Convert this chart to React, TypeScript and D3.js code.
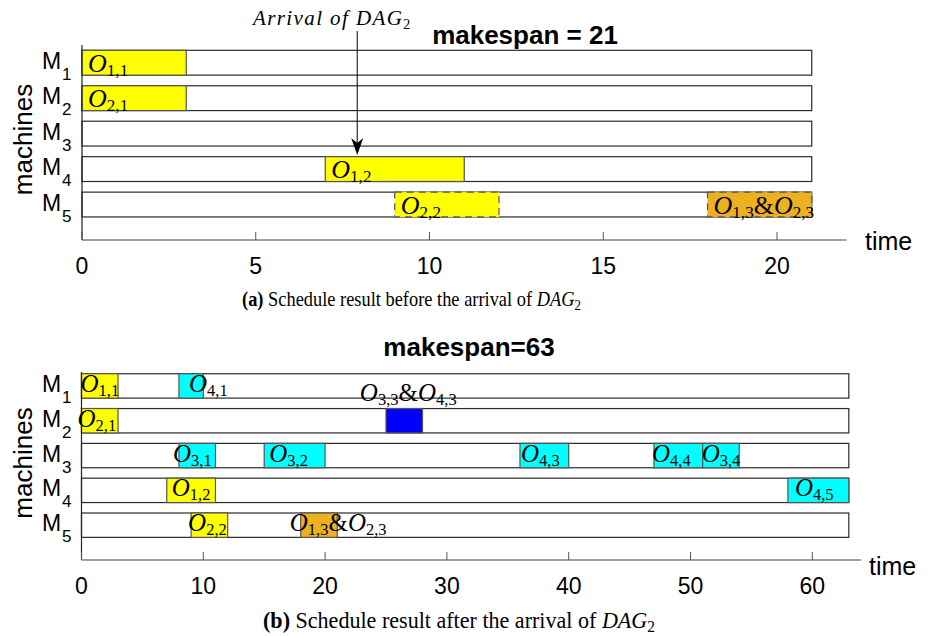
import React from 'react';
import * as d3 from 'd3';

// machines, top to bottom
const machines = ['1', '2', '3', '4', '5'];

// (a) before the arrival of DAG2
const beforeMachine = [1, 2, 4, 5, 5];
const beforeStart = [0, 0, 7, 9, 18];
const beforeEnd = [3, 3, 11, 12, 21];
const beforeLabel = ['1,1', '2,1', '1,2', '2,2', '1,3&2,3'];
const beforeGroup = ['dag1', 'dag1', 'dag1', 'dag1', 'merged1'];
const beforePending = [false, false, false, true, true];
const beforeMakespan = 21;
const beforeTicks = [0, 5, 10, 15, 20];
const arrivalTime = 7.92;

// (b) after the arrival of DAG2
const afterMachine = [1, 1, 2, 2, 3, 3, 3, 3, 3, 4, 4, 5, 5];
const afterStart = [0, 8, 0, 25, 8, 15, 36, 47, 51, 7, 58, 9, 18];
const afterEnd = [3, 10, 3, 28, 11, 20, 40, 51, 54, 11, 63, 12, 21];
const afterLabel = ['1,1', '4,1', '2,1', '3,3&4,3', '3,1', '3,2', '4,3', '4,4', '3,4', '1,2', '4,5', '2,2', '1,3&2,3'];
const afterGroup = ['dag1', 'dag2', 'dag1', 'merged2', 'dag2', 'dag2', 'dag2', 'dag2', 'dag2', 'dag1', 'dag2', 'dag1', 'merged1'];
const afterMakespan = 63;
const afterTicks = [0, 10, 20, 30, 40, 50, 60];

const groupColor: Record<string, string> = {
  dag1: '#FFFF00',
  dag2: '#00FFFF',
  merged1: '#EDB120',
  merged2: '#0000FF',
};

// small label nudges (px) for panel (b)
const afterNudge = [-1, 10, -4, 0, -6, 5, 1, -2, -1, 5, 7, -3, -11];

const SANS = 'Liberation Sans, Arial, sans-serif';
const SERIF = 'Liberation Serif, Times New Roman, serif';

function OpLabel({ text, x, y, size, sub, anchor = 'start' }: any) {
  const parts = text.split('&');
  const out: any[] = [];
  parts.forEach((p: string, i: number) => {
    if (i > 0) out.push(<tspan key={'a' + i} dy={-4} fontStyle="normal">&amp;</tspan>);
    out.push(<tspan key={'o' + i} fontStyle="italic">O</tspan>);
    out.push(<tspan key={'s' + i} dy={4} fontSize={sub} fontStyle="normal">{p}</tspan>);
  });
  return (
    <text x={x} y={y} fontFamily={SERIF} fontSize={size} textAnchor={anchor} fill="#000">
      {out}
    </text>
  );
}

function Caption({ x, y, size, letter, words, sx }: any) {
  return (
    <text transform={`translate(${x},${y}) scale(${sx},1)`} fontFamily={SERIF} fontSize={size}>
      <tspan fontWeight="bold">({letter})</tspan> {words} <tspan fontStyle="italic">DAG</tspan>
      <tspan fontSize={size * 0.7} dy={4}>2</tspan>
    </text>
  );
}

function Panel({ top, axisY, yMax, xMax, xRange, ticks, makespan, ops, title, titleX, titleY, pending, nudge, labelDy, labelSize, special, timeX, timeY }: any) {
  const x = d3.scaleLinear().domain([0, xMax]).range(xRange);
  const y = d3.scaleLinear().domain([0, yMax]).range([axisY, top]);
  const half = y(0) - y(0.35);
  const rowY = (m: number) => y(6 - m);

  return (
    <g>
      <text x={titleX} y={titleY} fontFamily={SANS} fontWeight="bold" fontSize={26} textAnchor="middle">{title}</text>
      {/* machine rows */}
      {machines.map((m, i) => (
        <g key={m}>
          <rect x={x(0)} y={rowY(i + 1) - half} width={x(makespan) - x(0)} height={2 * half}
            fill="#fff" stroke="#2a2a2a" strokeWidth={1.2} />
          <text x={42} y={rowY(i + 1) + 6} fontFamily={SANS} fontSize={23}>M</text>
          <text x={62} y={rowY(i + 1) + 17} fontFamily={SANS} fontSize={17}>{m}</text>
        </g>
      ))}
      {/* operations */}
      {ops.machine.map((m: number, i: number) => (
        <rect key={'b' + i} x={x(ops.start[i])} y={rowY(m) - half}
          width={x(ops.end[i]) - x(ops.start[i])} height={2 * half}
          fill={groupColor[ops.group[i]]}
          stroke="#555"
          strokeWidth={1.2}
          strokeDasharray={pending && pending[i] ? '7,5' : undefined} />
      ))}
      {ops.machine.map((m: number, i: number) => {
        if (special && ops.group[i] === 'merged2') {
          return (
            <OpLabel key={'l' + i} text={ops.label[i]} x={x((ops.start[i] + ops.end[i]) / 2) + 4}
              y={rowY(m) - half - 8} size={labelSize} sub={labelSize * 0.66} anchor="middle" />
          );
        }
        return (
          <OpLabel key={'l' + i} text={ops.label[i]} x={x(ops.start[i]) + nudge[i]}
            y={rowY(m) + labelDy} size={labelSize} sub={labelSize * 0.66} />
        );
      })}
      {/* axes */}
      <line x1={x(0)} x2={x(0)} y1={top} y2={axisY} stroke="#222" strokeWidth={1.2} />
      <line x1={x(0)} x2={x(xMax)} y1={axisY} y2={axisY} stroke="#808080" strokeWidth={1.6} />
      {ticks.map((t: number) => (
        <g key={t}>
          <line x1={x(t)} x2={x(t)} y1={axisY} y2={axisY - 8} stroke="#555" strokeWidth={1} />
          <text x={x(t)} y={axisY + 34} fontFamily={SANS} fontSize={23} textAnchor="middle">{t}</text>
        </g>
      ))}
      <text x={timeX} y={timeY} fontFamily={SANS} fontSize={25}>time</text>
      <text transform={`translate(32,${(top + axisY) / 2 - 3}) rotate(-90)`} fontFamily={SANS} fontSize={26} textAnchor="middle">machines</text>
    </g>
  );
}

export default function App() {
  const xA = d3.scaleLinear().domain([0, 22]).range([82, 846.5]);
  const ax = xA(arrivalTime);
  return (
    <svg width={932} height={636} style={{ position: 'absolute', left: 0, top: 0, background: '#fff' }}>
      <rect width={932} height={636} fill="#fff" />
      <Panel top={45} axisY={240} yMax={5.5} xMax={22} xRange={[82, 846.5]} ticks={beforeTicks}
        makespan={beforeMakespan} title="makespan = 21" titleX={525} titleY={44}
        ops={{ machine: beforeMachine, start: beforeStart, end: beforeEnd, label: beforeLabel, group: beforeGroup }}
        pending={beforePending} nudge={beforeLabel.map(() => 6)} labelDy={9} labelSize={26}
        timeX={865} timeY={250} />
      {/* arrival annotation */}
      <text x={253} y={25} fontFamily={SERIF} fontStyle="italic" fontSize={21} letterSpacing={1.4}>
        Arrival of DAG<tspan fontStyle="normal" fontSize={14} dy={4}>2</tspan>
      </text>
      <line x1={ax} x2={ax} y1={31} y2={148} stroke="#000" strokeWidth={1} />
      <path d={`M${ax},155 L${ax - 6},138 L${ax},143 L${ax + 6},138 Z`} fill="#000" />
      <Caption x={242} y={306} size={20} sx={0.92} letter="a" words="Schedule result before the arrival of" />

      <Panel top={372} axisY={560} yMax={5.4} xMax={64} xRange={[81.5, 861]} ticks={afterTicks}
        makespan={afterMakespan} title="makespan=63" titleX={469} titleY={356}
        ops={{ machine: afterMachine, start: afterStart, end: afterEnd, label: afterLabel, group: afterGroup }}
        pending={null} nudge={afterNudge} labelDy={6} labelSize={25} special
        timeX={869} timeY={575} />
      <Caption x={263} y={628} size={23} sx={0.96} letter="b" words="Schedule result after the arrival of" />
    </svg>
  );
}
